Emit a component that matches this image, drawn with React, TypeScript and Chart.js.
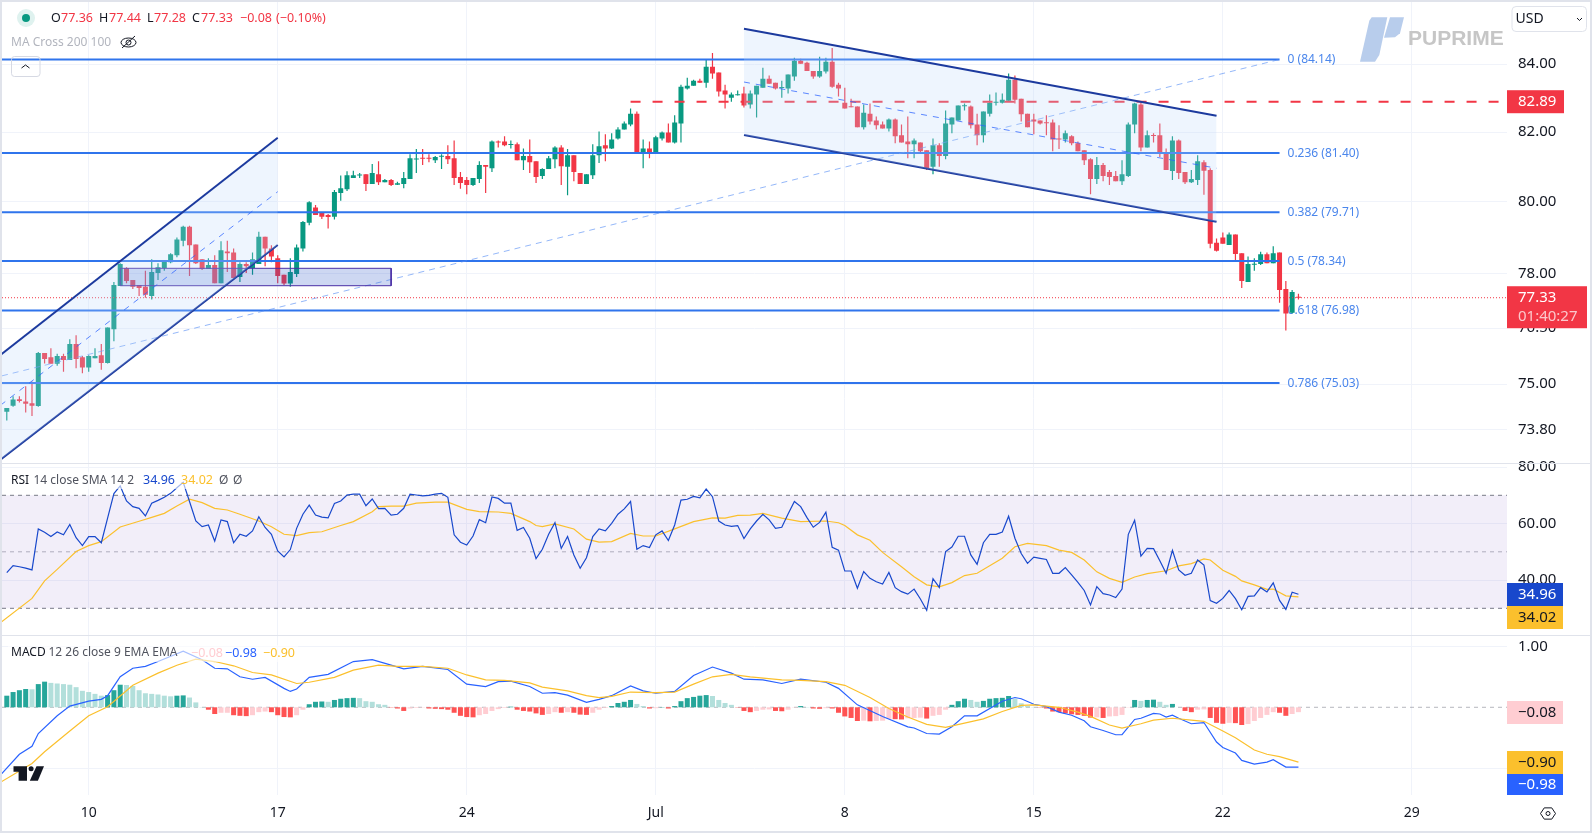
import React, { useEffect, useRef } from "react";
import { Chart, registerables } from "chart.js";

Chart.register(...registerables);

// ---- candles: index 0 is the "10" tick, one candle per 4h session ----
const firstCandle = -13;
const opens = [
  74.27,74.43,74.60,74.54,74.49,74.42,75.83,75.72,75.54,75.75,75.64,76.07,75.72,
  75.44,75.69,75.77,75.56,76.47,77.65,78.15,77.82,77.68,77.63,77.38,78.01,78.15,78.31,78.50,78.91,79.30,78.80,78.39,78.12,78.23,77.73,78.61,78.58,77.90,78.26,78.15,78.26,79.02,78.69,
  78.42,77.96,77.72,77.98,78.69,79.41,79.84,79.69,79.63,79.58,80.25,80.36,80.68,80.75,80.79,80.51,80.79,80.56,80.62,80.49,
  80.51,80.65,81.21,81.25,81.25,81.19,81.29,81.31,81.25,80.71,80.62,80.48,80.65,81.05,80.96,81.73,81.73,81.63,81.65,81.19,81.31,
  81.16,80.74,80.94,81.22,81.56,81.00,81.33,80.82,80.51,80.76,81.33,81.62,81.53,81.82,82.08,82.22,82.54,81.42,81.53,81.42,81.82,81.99,81.70,82.25,83.28,83.36,83.51,83.45,83.92,83.75,83.22,83.01,83.08,
  83.13,82.81,83.10,83.30,83.57,83.45,83.29,83.28,83.63,84.10,84.04,83.80,83.63,83.78,84.07,83.39,
  82.86,82.75,82.75,82.14,82.54,82.34,82.22,82.11,82.37,81.91,81.73,81.65,81.70,81.48,81.00,81.62,81.31,82.22,82.34,82.76,82.75,82.22,81.91,82.54,82.86,82.86,82.92,83.54,82.98,82.54,
  82.37,82.34,82.28,82.28,81.82,81.79,81.88,81.68,81.48,81.22,80.65,81.05,80.85,80.74,80.59,80.74,82.22,82.81,81.56,81.91,81.91,81.42,80.88,81.76,80.85,80.56,80.62,
  81.13,80.91,78.85,79.00,78.79,79.08,78.56,77.76,78.24,78.26,78.53,78.28,78.58,77.57,76.92,77.36,
];
const highs = [
  74.37,74.68,74.68,74.94,75.07,75.86,75.83,75.96,75.81,75.81,76.20,76.31,75.75,
  75.77,75.96,76.07,76.52,77.76,78.28,78.17,77.82,77.68,78.07,78.39,78.28,78.34,78.56,79.00,79.33,79.33,78.80,78.39,78.42,78.50,78.89,78.91,78.69,78.31,78.31,78.58,79.16,79.02,78.78,
  78.50,77.96,78.42,78.80,79.46,80.02,79.91,79.69,79.66,80.34,80.75,80.87,80.89,80.82,80.79,81.08,81.16,80.65,80.65,80.57,
  80.85,81.36,81.51,81.51,81.36,81.31,81.36,81.62,81.76,80.85,80.71,80.68,81.16,81.05,81.76,81.76,81.88,81.76,81.70,81.53,81.79,
  81.16,80.96,81.31,81.59,81.62,81.51,81.33,80.82,80.79,81.65,82.02,81.94,81.97,82.14,82.31,82.69,82.60,81.79,81.73,81.90,82.02,82.25,82.49,83.39,83.60,83.54,83.57,84.13,84.33,83.75,83.39,83.16,83.22,
  83.33,83.22,83.36,83.89,83.66,83.45,83.51,83.69,84.19,84.16,84.07,83.80,84.22,84.19,84.48,83.45,
  83.30,82.98,82.75,82.81,82.84,82.46,82.31,82.40,82.40,82.22,82.46,81.82,81.70,81.48,81.82,81.68,82.63,82.43,82.78,82.84,82.78,82.54,82.60,83.10,83.16,83.13,83.72,83.66,82.98,82.54,
  82.54,82.34,82.49,82.37,82.20,82.05,81.91,81.73,81.48,81.25,81.28,81.11,80.91,80.88,81.19,82.28,82.86,82.86,82.05,81.97,82.25,81.53,81.88,81.79,80.85,80.91,81.33,
  81.19,80.96,78.97,79.14,79.14,79.08,78.56,78.47,78.42,78.60,78.58,78.75,78.58,77.79,77.54,77.44,
];
const lows = [
  74.04,74.40,74.51,74.25,74.16,74.40,75.55,75.54,75.49,75.33,75.64,75.42,75.29,
  75.33,75.69,75.38,75.55,76.15,77.65,77.73,77.57,77.38,77.33,77.28,77.82,78.07,78.28,78.45,78.75,77.93,78.26,78.09,78.12,77.73,77.73,78.04,77.87,77.76,78.01,77.96,78.26,78.20,78.31,
  77.73,77.68,77.63,77.90,78.61,79.34,79.63,79.52,79.25,79.50,80.03,80.31,80.68,80.68,80.31,80.51,80.48,80.56,80.45,80.48,
  80.39,80.65,80.82,81.05,81.13,81.11,80.94,81.08,80.48,80.37,80.22,80.45,80.54,80.25,80.85,81.56,81.59,81.53,81.19,80.91,80.82,
  80.54,80.65,80.94,80.96,80.48,80.19,80.59,80.51,80.51,80.65,81.11,81.16,81.51,81.79,82.08,82.17,81.42,80.96,81.25,81.42,81.76,81.70,81.67,81.70,83.25,83.36,83.45,83.30,83.57,83.04,82.69,82.89,83.07,
  82.72,82.69,82.43,83.30,83.42,83.25,83.01,83.13,83.51,84.01,83.80,83.57,83.60,83.72,83.30,83.04,
  82.69,82.73,82.14,82.08,82.22,82.08,82.11,82.02,81.68,81.70,81.25,81.25,81.41,80.91,80.79,81.00,81.22,81.97,82.34,82.63,82.11,81.62,81.70,82.46,82.78,82.84,82.92,82.84,82.31,82.14,
  81.94,82.22,81.91,81.45,81.51,81.70,81.62,81.45,81.05,80.22,80.51,80.59,80.48,80.59,80.48,80.71,81.97,81.45,81.56,81.70,81.28,80.91,80.62,80.65,80.51,80.54,80.48,
  80.20,78.70,78.61,78.82,78.79,78.37,77.60,77.76,78.07,78.23,78.28,78.28,77.19,76.44,76.90,77.28,
];
const closes = [
  74.37,74.59,74.55,74.48,74.43,75.83,75.67,75.54,75.75,75.64,76.07,75.67,75.44,
  75.75,75.75,75.56,76.52,77.68,78.26,77.79,77.63,77.60,77.41,78.04,78.17,78.34,78.53,78.94,79.30,78.78,78.28,78.12,78.23,77.73,78.64,78.56,77.87,78.26,78.20,78.39,79.02,78.69,78.47,
  77.93,77.72,78.04,78.72,79.43,79.99,79.63,79.58,79.57,80.28,80.39,80.76,80.76,80.78,80.51,80.82,80.56,80.62,80.48,80.53,
  80.68,81.25,81.22,81.23,81.23,81.28,81.31,81.22,80.68,80.54,80.48,80.68,81.05,81.00,81.73,81.70,81.62,81.65,81.19,81.31,81.13,
  80.71,80.94,81.25,81.56,81.02,81.33,80.85,80.51,80.79,81.33,81.59,81.53,81.79,82.08,82.25,82.54,81.42,81.53,81.42,81.85,81.99,81.70,82.28,83.33,83.36,83.51,83.45,83.92,83.72,83.19,83.10,83.10,83.10,
  82.78,83.13,83.36,83.57,83.42,83.28,83.30,83.69,84.10,84.01,83.80,83.63,83.80,84.07,83.33,83.28,
  82.69,82.73,82.14,82.57,82.31,82.20,82.11,82.37,81.88,81.70,81.65,81.76,81.45,80.96,81.62,81.31,82.25,82.43,82.78,82.78,82.20,81.91,82.60,82.86,82.88,82.95,83.54,82.95,82.52,82.14,
  82.31,82.25,82.26,81.79,81.79,81.97,81.68,81.45,81.19,80.65,81.05,80.74,80.71,80.59,80.79,82.22,82.84,81.56,81.91,81.89,81.39,80.91,81.76,80.82,80.56,80.65,81.16,
  80.89,78.82,78.63,78.82,79.08,78.54,77.79,78.26,78.26,78.53,78.28,78.56,77.54,76.90,77.49,77.33,
];

// ---- RSI, one value per candle ----
const rsiValues = [
  42.6,45.1,44.7,44.2,43.6,58.1,56.9,55.4,57.0,56.0,59.7,55.0,52.2,
  55.4,55.4,53.2,61.9,70.6,73.3,68.0,66.0,65.4,62.7,67.2,68.2,69.3,70.7,72.7,74.6,67.8,60.9,58.9,59.5,53.8,61.3,60.7,53.2,56.2,55.5,57.4,62.4,58.6,56.2,
  50.3,48.2,50.8,58.3,63.3,66.5,63.0,62.3,62.0,67.1,68.0,70.1,70.4,70.4,66.3,68.7,65.3,65.4,63.0,63.3,
  65.4,70.4,70.1,69.8,70.0,70.4,70.7,69.3,56.0,53.4,52.4,55.6,61.4,60.3,69.4,68.9,67.2,67.2,57.6,58.6,54.8,
  47.6,50.9,56.2,60.3,51.2,55.4,48.9,44.2,47.9,55.4,58.1,57.4,60.1,63.3,65.2,67.8,50.9,52.2,51.5,56.0,57.4,54.0,59.5,68.3,68.6,69.6,69.1,72.2,69.5,60.9,59.5,59.0,59.3,
  54.7,58.1,60.9,63.3,61.3,58.3,58.7,63.4,67.8,66.0,62.1,58.7,60.4,64.0,51.6,50.6,
  43.2,43.2,37.1,43.0,40.6,39.4,38.6,42.7,37.3,35.9,35.0,36.8,33.3,29.3,40.5,37.4,50.1,51.7,55.5,55.5,48.9,45.6,53.2,56.2,56.2,57.0,62.6,54.8,49.4,45.9,
  48.1,47.7,47.3,42.4,42.4,44.4,41.8,39.2,36.3,31.2,37.7,35.2,34.7,33.8,36.8,56.2,61.2,48.5,51.2,51.1,46.8,42.4,50.5,43.6,41.7,42.4,47.1,
  45.3,32.7,31.8,33.5,36.3,33.4,29.5,34.2,34.4,37.3,35.8,39.0,32.8,29.6,35.7,34.96,
];

// smooth lines are read at their visible turning points
const rsiSmaAt = [-14,-9,-7,-5,-2,0,2,5,8,10,12,14,16,18,20,22,24,27,29,31,33,35,37,40,42,45,46,48,50,52,55,57,60,62,65,67,70,71,72,74,77,79,81,83,86,88,90,93,96,99,101,103,105,107,110,113,117,119,120,122,124,126,129,131,133,135,137,139,141,145,147,149,152,154,156,158,160,162,164,166,168,171,173,175,177,178,180,182,183,185,187,188,190,192];
const rsiSmaValues = [24.9,33.5,39.7,43.8,50.1,52.2,53.6,58.8,60.8,62.2,63.6,66.2,68.6,67.4,65.4,64.8,63.3,60.9,58.9,56.2,55.7,56.8,57.1,59.3,60.7,64.2,66.0,66.2,66.2,67.2,67.6,67.6,65.0,64.2,64.1,63.6,60.7,59.3,58.9,59.9,58.1,54.5,53.4,53.6,56.5,55.6,55.6,58.1,60.7,62.0,61.9,62.9,63.0,63.6,61.9,60.7,60.9,60.3,59.3,56.0,54.1,49.8,44.7,41.2,38.3,37.6,39.1,41.6,42.4,47.7,51.8,53.0,52.2,50.6,49.8,47.1,42.9,40.6,39.2,41.1,42.3,43.3,45.0,45.8,47.5,47.1,43.5,41.3,39.7,38.3,36.7,36.8,34.4,34.02];

const macdAt = [-14,-11,-9,-8,-5,-3,0,2,3,5,7,9,11,15,18,20,22,24,26,28,31,32,33,35,38,42,45,48,50,53,57,60,63,65,67,70,72,74,76,79,81,83,86,88,90,93,96,99,102,104,107,110,113,117,119,122,126,130,131,133,135,137,139,141,145,147,148,150,152,154,156,158,159,161,163,164,166,167,169,170,171,172,173,175,177,179,180,182,183,185,187,188,190,192];
const macdValues = [-1.11,-0.77,-0.64,-0.43,-0.14,0.02,0.10,0.13,0.19,0.50,0.64,0.67,0.75,0.92,0.78,0.64,0.63,0.50,0.46,0.49,0.31,0.26,0.30,0.49,0.54,0.75,0.78,0.69,0.63,0.67,0.62,0.38,0.34,0.42,0.43,0.34,0.23,0.24,0.20,0.08,0.13,0.19,0.35,0.27,0.23,0.26,0.52,0.66,0.56,0.46,0.45,0.39,0.46,0.41,0.31,0.04,-0.15,-0.32,-0.34,-0.43,-0.44,-0.32,-0.14,-0.14,0.10,0.16,0.14,0.05,0.01,-0.08,-0.13,-0.22,-0.32,-0.38,-0.45,-0.45,-0.20,-0.18,-0.10,-0.11,-0.16,-0.13,-0.18,-0.27,-0.25,-0.57,-0.66,-0.75,-0.87,-0.93,-0.90,-0.86,-0.98,-0.98];

const signalAt = [-14,-9,-7,-3,0,3,7,11,14,17,20,23,26,29,33,35,39,42,46,49,53,57,60,63,66,70,72,76,79,81,83,86,90,93,96,99,102,105,110,113,117,120,124,127,130,133,136,139,142,145,148,150,154,157,159,162,164,167,169,172,175,177,180,182,185,187,189,192];
const signalValues = [-1.23,-0.92,-0.73,-0.39,-0.14,0.01,0.36,0.56,0.69,0.79,0.75,0.68,0.57,0.53,0.39,0.41,0.49,0.61,0.69,0.67,0.67,0.64,0.53,0.45,0.44,0.40,0.33,0.27,0.19,0.16,0.18,0.25,0.24,0.25,0.38,0.50,0.54,0.50,0.45,0.44,0.42,0.36,0.16,-0.02,-0.16,-0.28,-0.33,-0.26,-0.19,-0.07,0.03,0.04,0,-0.08,-0.15,-0.29,-0.34,-0.27,-0.21,-0.18,-0.21,-0.23,-0.39,-0.50,-0.70,-0.77,-0.81,-0.90];

const histValues = [
  0.19,0.25,0.28,0.30,0.295,0.38,0.42,0.40,0.39,0.38,0.37,0.33,0.27,
  0.25,0.22,0.19,0.20,0.28,0.37,0.365,0.35,0.28,0.23,0.22,0.21,0.19,0.18,0.19,0.195,0.16,0.08,0.005,-0.04,-0.11,-0.09,-0.09,-0.13,-0.14,-0.145,-0.13,-0.08,-0.07,-0.08,
  -0.13,-0.16,-0.165,-0.13,-0.04,0.05,0.09,0.095,0.09,0.12,0.14,0.15,0.155,0.15,0.10,0.09,0.05,0.04,-0.005,-0.02,
  -0.06,-0.02,-0.01,-0.005,-0.02,-0.025,-0.03,-0.04,-0.09,-0.14,-0.16,-0.165,-0.13,-0.11,-0.06,-0.03,-0.01,0.01,-0.04,-0.06,-0.07,
  -0.10,-0.125,-0.11,-0.08,-0.09,-0.08,-0.09,-0.12,-0.125,-0.09,-0.04,-0.01,0.02,0.07,0.09,0.12,0.055,0.02,-0.02,-0.015,0.005,-0.02,0.02,0.10,0.15,0.17,0.19,0.20,0.185,0.12,0.07,0.04,-0.005,
  -0.06,-0.08,-0.06,-0.04,-0.035,-0.06,-0.065,-0.04,-0.005,0.02,0.005,-0.02,-0.025,-0.015,-0.02,-0.09,
  -0.15,-0.175,-0.225,-0.22,-0.23,-0.225,-0.22,-0.19,-0.195,-0.20,-0.18,-0.175,-0.17,-0.185,-0.14,-0.125,-0.04,0.04,0.10,0.14,0.12,0.09,0.105,0.14,0.15,0.155,0.185,0.14,0.065,0.02,
  0.005,-0.005,-0.02,-0.07,-0.08,-0.10,-0.115,-0.125,-0.14,-0.17,-0.165,-0.175,-0.15,-0.145,-0.125,-0.005,0.12,0.105,0.12,0.125,0.09,0.04,0.055,0,-0.06,-0.08,-0.04,
  -0.035,-0.175,-0.255,-0.27,-0.255,-0.26,-0.29,-0.275,-0.225,-0.175,-0.125,-0.08,-0.09,-0.14,-0.11,-0.08,
];

// ---- drawings, in chart values ----
const fibLevels = [84.14, 81.4, 79.71, 78.34, 76.98, 75.03];
const fibNames = ["0", "0.236", "0.382", "0.5", "0.618", "0.786"];
const fibEndAt = 189;
const trendLineAt = [-13.76, 189];
const trendLineValues = [75.22, 84.14];
const upChannelAt = [-14, 30];
const upChannelTop = [75.78, 81.84];
const upChannelMid = [74.44, 80.29];
const upChannelBottom = [73.02, 78.79];
const downChannelAt = [104, 179];
const downChannelTop = [85.06, 82.48];
const downChannelMid = [83.47, 80.96];
const downChannelBottom = [81.92, 79.44];
const boxAt = [5, 48];
const boxValues = [77.66, 78.14];
const alertLevel = 82.89;
const alertFromAt = 86;
const lastClose = 77.33;

// ---- axes ----
const timeTickAt = [0, 30, 60, 90, 120, 150, 180, 210];
const timeTickLabels = ["10", "17", "24", "Jul", "8", "15", "22", "29"];
const priceTicks = [84, 82, 80, 78, 76.5, 75, 73.8];
const rsiTicks = [80, 60, 40];
const macdTicks = [1, -1];
const rsiLevels = [70, 50, 30];

const xMin = -13.76;
const xMax = 225.1;
const UP = "#089981";
const DOWN = "#f23645";
const FAMILY = '"Noto Sans", sans-serif';
const GRID = "#f0f3fa";
const FIB = "#2f74ec";
const NAVY = "#1c3a9e";

const pairs = (xs: number[], ys: number[]) => xs.map((x, i) => ({ x, y: ys[i] }));
const flat = (a: number, b: number, v: number) => [{ x: a, y: v }, { x: b, y: v }];

function label(ctx: any, s: string, x: number, y: number, color: string, font: string) {
  ctx.fillStyle = color;
  ctx.font = font;
  ctx.textAlign = "left";
  ctx.textBaseline = "middle";
  ctx.fillText(s, x, y);
}

function poly(ctx: any, pts: number[][], color: string) {
  ctx.fillStyle = color;
  ctx.beginPath();
  pts.forEach((p, i) => (i ? ctx.lineTo(p[0], p[1]) : ctx.moveTo(p[0], p[1])));
  ctx.closePath();
  ctx.fill();
}

const pagePlugin = {
  id: "page",
  beforeDraw(chart: any) {
    const ctx = chart.ctx;
    ctx.save();
    ctx.fillStyle = "#ffffff";
    ctx.fillRect(0, 0, chart.width, chart.height);
    ctx.restore();
  },
  beforeDatasetsDraw(chart: any) {
    const ctx = chart.ctx;
    const x = chart.scales.x.getPixelForValue(fibEndAt) + 8;
    ctx.save();
    fibLevels.forEach((v, i) => {
      const y = chart.scales.yP.getPixelForValue(v);
      label(ctx, `${fibNames[i]} (${v.toFixed(2)})`, x, y + 0.5, "#4a86ec", `12px ${FAMILY}`);
    });
    ctx.restore();
  },
  afterDraw(chart: any) {
    const ctx = chart.ctx;
    const f125 = `12.5px ${FAMILY}`;
    const f12 = `12px ${FAMILY}`;
    const f15 = `15px ${FAMILY}`;
    ctx.save();

    // frame and pane separators
    ctx.fillStyle = "#e0e3eb";
    ctx.fillRect(0, 0, 2, 833);
    ctx.fillRect(0, 0, 1592, 2);
    ctx.fillRect(1590, 0, 2, 833);
    ctx.fillRect(0, 831, 1592, 2);
    ctx.fillRect(2, 463, 1588, 1);
    ctx.fillRect(2, 635, 1588, 1);

    // header
    ctx.fillStyle = "#dff2ef";
    ctx.beginPath();
    ctx.arc(26, 18, 9, 0, Math.PI * 2);
    ctx.fill();
    ctx.fillStyle = UP;
    ctx.beginPath();
    ctx.arc(26, 18, 4, 0, Math.PI * 2);
    ctx.fill();
    const dark = "#131722";
    label(ctx, "O", 51, 18, dark, f125);
    label(ctx, "77.36", 61, 18, DOWN, f125);
    label(ctx, "H", 99, 18, dark, f125);
    label(ctx, "77.44", 109, 18, DOWN, f125);
    label(ctx, "L", 147, 18, dark, f125);
    label(ctx, "77.28", 154, 18, DOWN, f125);
    label(ctx, "C", 192, 18, dark, f125);
    label(ctx, "77.33", 201, 18, DOWN, f125);
    label(ctx, "\u22120.08", 240, 18, DOWN, f125);
    label(ctx, "(\u22120.10%)", 276, 18, DOWN, f125);
    label(ctx, "MA Cross 200 100", 11, 43, "#b2b5be", f12);

    // crossed eye
    ctx.strokeStyle = dark;
    ctx.lineWidth = 1;
    ctx.beginPath();
    ctx.ellipse(128.5, 42.5, 7.5, 4.5, 0, 0, Math.PI * 2);
    ctx.stroke();
    ctx.beginPath();
    ctx.arc(128.5, 42.5, 2.5, 0, Math.PI * 2);
    ctx.stroke();
    ctx.beginPath();
    ctx.moveTo(122, 48);
    ctx.lineTo(135, 36);
    ctx.stroke();

    // collapse button
    ctx.strokeStyle = "#d6d9e3";
    ctx.beginPath();
    ctx.roundRect(11.5, 56.5, 28.5, 20, 3);
    ctx.stroke();
    ctx.strokeStyle = dark;
    ctx.beginPath();
    ctx.moveTo(21.5, 68);
    ctx.lineTo(25.5, 65);
    ctx.lineTo(29.5, 68);
    ctx.stroke();

    // logo
    poly(ctx, [[1360, 61.7], [1369.3, 20.7], [1371.7, 17.3], [1387.3, 17.3], [1379.3, 55], [1375, 61.7]], "#b8cdec");
    poly(ctx, [[1390, 17.3], [1404, 17.3], [1400, 33.3], [1395, 37.3], [1384, 37.7]], "#b8cdec");
    label(ctx, "PUPRIME", 1408, 39.5, "#c6c6c6", 'bold 21px "Liberation Sans", sans-serif');

    // currency button
    ctx.fillStyle = "#ffffff";
    ctx.strokeStyle = "#e0e3eb";
    ctx.beginPath();
    ctx.roundRect(1512, 6.5, 74.5, 25, 4);
    ctx.fill();
    ctx.stroke();
    label(ctx, "USD", 1515.5, 19, dark, `14px ${FAMILY}`);
    ctx.strokeStyle = dark;
    ctx.beginPath();
    ctx.moveTo(1577, 18);
    ctx.lineTo(1579.5, 20.5);
    ctx.lineTo(1582, 18);
    ctx.stroke();

    // price scale flags
    const flag = (y: number, h: number, w: number, bg: string, fg: string, s: string) => {
      ctx.fillStyle = bg;
      ctx.fillRect(1507, y, w, h);
      label(ctx, s, 1518, y + h / 2 + 0.5, fg, f15);
    };
    const yP = chart.scales.yP;
    flag(yP.getPixelForValue(alertLevel) - 11.5, 23, 57, DOWN, "#ffffff", alertLevel.toFixed(2));
    const ly = yP.getPixelForValue(lastClose);
    ctx.fillStyle = DOWN;
    ctx.fillRect(1507, ly - 11.5, 80, 42);
    label(ctx, lastClose.toFixed(2), 1518, ly + 0.5, "#ffffff", f15);
    label(ctx, "01:40:27", 1518, ly + 19.5, "rgba(255,255,255,0.72)", f15);
    flag(583, 23, 56, "#1848cc", "#ffffff", "34.96");
    flag(606, 23, 56, "#fbc02d", dark, "34.02");
    flag(701, 23, 56, "#ffcdd2", dark, "\u22120.08");
    flag(751, 23, 56, "#fbc02d", dark, "\u22120.90");
    flag(774, 21, 56, "#2962ff", "#ffffff", "\u22120.98");

    // pane titles
    ctx.fillStyle = "rgba(255,255,255,0.6)";
    ctx.fillRect(8, 472, 240, 17);
    ctx.fillRect(8, 645, 290, 17);
    const grey = "#50535e";
    label(ctx, "RSI", 11, 480.5, dark, f12);
    label(ctx, "14 close SMA 14 2", 33.5, 480.5, grey, f12);
    label(ctx, "34.96", 143, 480.5, "#1848cc", f125);
    label(ctx, "34.02", 181, 480.5, "#fbc02d", f125);
    label(ctx, "\u00d8", 219, 480.5, grey, f12);
    label(ctx, "\u00d8", 233, 480.5, grey, f12);
    label(ctx, "MACD", 11, 653, dark, f12);
    label(ctx, "12 26 close 9 EMA EMA", 48.5, 653, grey, f12);
    label(ctx, "\u22120.08", 191, 653, "#ffcdd2", f125);
    label(ctx, "\u22120.98", 225, 653, "#2962ff", f125);
    label(ctx, "\u22120.90", 263, 653, "#fbc02d", f125);

    // TradingView mark
    poly(ctx, [[13.5, 766.3], [27, 766.3], [27, 780.7], [18.6, 780.7], [18.6, 771.7], [13.5, 771.7]], dark);
    poly(ctx, [[36.5, 766.3], [44, 766.3], [37.9, 780.7], [29.8, 780.7]], dark);
    ctx.fillStyle = dark;
    ctx.beginPath();
    ctx.arc(31.1, 768.7, 2.5, 0, Math.PI * 2);
    ctx.fill();

    // settings icon
    ctx.strokeStyle = dark;
    ctx.beginPath();
    for (let k = 0; k < 6; k++) {
      const a = (Math.PI / 3) * k;
      const px = 1548 + 7.5 * Math.cos(a);
      const py = 813.5 + 6.5 * Math.sin(a);
      k ? ctx.lineTo(px, py) : ctx.moveTo(px, py);
    }
    ctx.closePath();
    ctx.stroke();
    ctx.beginPath();
    ctx.arc(1548, 813.5, 2, 0, Math.PI * 2);
    ctx.stroke();
    ctx.restore();
  },
};

const noPadding = (s: any) => {
  s.paddingTop = 0;
  s.paddingBottom = 0;
  s.paddingLeft = 0;
  s.paddingRight = 0;
};
const ticksOf = (vals: number[]) => (s: any) => {
  s.ticks = vals.map((value) => ({ value }));
};
const yAxis = (min: number, max: number, weight: number, vals: number[], type = "linear") => ({
  type,
  position: "right",
  stack: "panes",
  stackWeight: weight,
  min,
  max,
  afterBuildTicks: ticksOf(vals),
  afterFit: (s: any) => {
    s.width = 85;
    noPadding(s);
  },
  border: { display: false },
  grid: { color: GRID, drawTicks: false, lineWidth: 1 },
  ticks: {
    autoSkip: false,
    padding: 11,
    color: "#131722",
    font: { family: FAMILY, size: 15 },
    callback: (v: number) => Number(v).toFixed(2),
  },
});

export default function App() {
  const ref = useRef<HTMLCanvasElement | null>(null);
  useEffect(() => {
    if (!ref.current) return;
    const at = (k: number) => firstCandle + k;
    const isUp = opens.map((o, k) => closes[k] >= o);
    const line = (data: any[], yAxisID: string, order: number, color: string, width: number, extra: any = {}) => ({
      type: "line",
      data,
      yAxisID,
      xAxisID: "x",
      order,
      borderColor: color,
      borderWidth: width,
      pointRadius: 0,
      tension: 0,
      fill: false,
      ...extra,
    });
    const datasets: any[] = [
      // MACD
      {
        type: "bar",
        data: histValues.map((y, k) => ({ x: at(k), y })),
        yAxisID: "yM",
        order: 30,
        barThickness: 5,
        grouped: false,
        inflateAmount: 0,
        backgroundColor: histValues.map((v, k) => {
          const prev = k ? histValues[k - 1] : v;
          if (v >= 0) return v >= prev ? "#26a69a" : "#b2dfdb";
          return v < prev ? "#ff5252" : "#ffcdd2";
        }),
      },
      line(flat(xMin, xMax, 0), "yM", 31, "rgba(120,123,134,0.55)", 1, { borderDash: [4, 4] }),
      line(pairs(macdAt, macdValues), "yM", 28, "#2962ff", 1.2),
      line(pairs(signalAt, signalValues), "yM", 27, "#fbc02d", 1.2),
      // RSI
      line(flat(xMin, xMax, rsiLevels[0]), "yR", 26, "#787b86", 1, {
        borderDash: [4, 4],
        fill: "+1",
        backgroundColor: "rgba(126,87,194,0.1)",
      }),
      line(flat(xMin, xMax, rsiLevels[2]), "yR", 26, "#787b86", 1, { borderDash: [4, 4] }),
      line(flat(xMin, xMax, rsiLevels[1]), "yR", 26, "rgba(120,123,134,0.55)", 1, { borderDash: [4, 4] }),
      line(pairs(rsiSmaAt, rsiSmaValues), "yR", 24, "#fbc02d", 1.2),
      line(rsiValues.map((y, k) => ({ x: at(k), y })), "yR", 23, "#1848cc", 1.2),
      // candles
      {
        type: "bar",
        data: lows.map((l, k) => ({ x: at(k), y: [l, highs[k]] })),
        yAxisID: "yP",
        order: 20,
        barThickness: 1.2,
        grouped: false,
        inflateAmount: 0,
        backgroundColor: isUp.map((u) => (u ? UP : DOWN)),
      },
      {
        type: "bar",
        data: opens.map((o, k) => ({ x: at(k), y: [o, closes[k]] })),
        yAxisID: "yP",
        order: 19,
        barThickness: 5,
        grouped: false,
        inflateAmount: 0,
        minBarLength: 1,
        backgroundColor: isUp.map((u) => (u ? UP : DOWN)),
      },
      // price lines
      line(flat(xMin, xMax, lastClose), "yP", 18, DOWN, 1, { borderDash: [1, 2] }),
      line(flat(alertFromAt, xMax, alertLevel), "yP", 17, DOWN, 2, { borderDash: [10, 12] }),
      ...fibLevels.map((v) => line(flat(xMin, fibEndAt, v), "yP", 15, FIB, 2)),
      line(pairs(trendLineAt, trendLineValues), "yP", 14, "rgba(90,145,245,0.65)", 1, { borderDash: [6, 5] }),
      // purple box
      line(flat(boxAt[0], boxAt[1], boxValues[1]), "yP", 12, "rgba(0,0,0,0)", 0, {
        fill: "+1",
        backgroundColor: "rgba(40,80,200,0.23)",
      }),
      line(flat(boxAt[0], boxAt[1], boxValues[0]), "yP", 12, "rgba(0,0,0,0)", 0),
      line(
        [
          { x: boxAt[0], y: boxValues[0] },
          { x: boxAt[0], y: boxValues[1] },
          { x: boxAt[1], y: boxValues[1] },
          { x: boxAt[1], y: boxValues[0] },
          { x: boxAt[0], y: boxValues[0] },
        ],
        "yP",
        11,
        "#4a2ea5",
        1
      ),
    ];
    const channel = (xs: number[], top: number[], mid: number[], bottom: number[]) => {
      datasets.push(
        line(pairs(xs, top), "yP", 6, NAVY, 2, { fill: "+1", backgroundColor: "rgba(187,217,251,0.25)" }),
        line(pairs(xs, bottom), "yP", 6, NAVY, 2),
        line(pairs(xs, mid), "yP", 5, "rgba(41,98,255,0.75)", 1, { borderDash: [6, 6] })
      );
    };
    channel(upChannelAt, upChannelTop, upChannelMid, upChannelBottom);
    channel(downChannelAt, downChannelTop, downChannelMid, downChannelBottom);

    const chart = new Chart(ref.current, {
      type: "bar",
      data: { datasets },
      plugins: [pagePlugin],
      options: {
        animation: false,
        responsive: false,
        devicePixelRatio: 1,
        events: [],
        layout: { autoPadding: false, padding: { left: 2, top: 2, right: 0, bottom: 0 } },
        plugins: { legend: { display: false }, tooltip: { enabled: false }, title: { display: false } },
        scales: {
          x: {
            type: "linear",
            min: xMin,
            max: xMax,
            offset: false,
            afterBuildTicks: ticksOf(timeTickAt),
            afterFit: (s: any) => {
              s.height = 38;
              noPadding(s);
            },
            border: { display: false },
            grid: { color: GRID, drawTicks: false, offset: false },
            ticks: {
              autoSkip: false,
              maxRotation: 0,
              padding: 9.5,
              color: "#131722",
              font: { family: FAMILY, size: 14 },
              callback: (v: number) => timeTickLabels[timeTickAt.indexOf(v)],
            },
          },
          yP: yAxis(72.92, 85.87, 461.5, priceTicks, "logarithmic"),
          yR: yAxis(20.55, 81.26, 171.5, rsiTicks),
          yM: yAxis(-1.438, 1.185, 160, macdTicks),
        },
      } as any,
    } as any);
    return () => chart.destroy();
  }, []);
  return (
    <div style={{ position: "fixed", left: 0, top: 0, width: 1592, height: 833 }}>
      <canvas ref={ref} width={1592} height={833} style={{ display: "block", width: 1592, height: 833 }} />
    </div>
  );
}
